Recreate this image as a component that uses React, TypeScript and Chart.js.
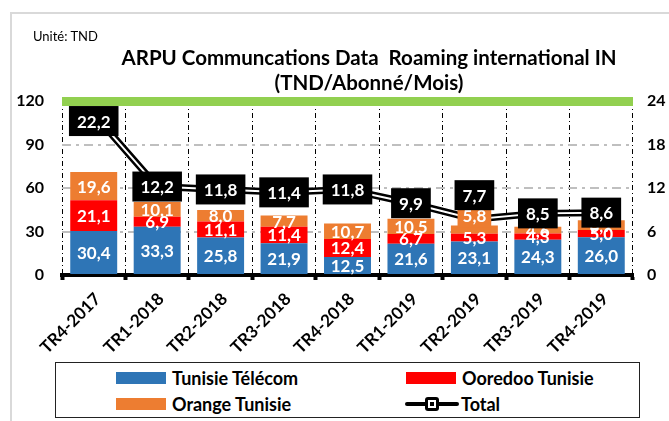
import React, { useEffect, useRef } from "react";
import { Chart, registerables } from "chart.js";
Chart.register(...registerables);

const categories = ["TR4-2017", "TR1-2018", "TR2-2018", "TR3-2018", "TR4-2018", "TR1-2019", "TR2-2019", "TR3-2019", "TR4-2019"];
const tunisieTelecom = [30.4, 33.3, 25.8, 21.9, 12.5, 21.6, 23.1, 24.3, 26.0];
const ooredooTunisie = [21.1, 6.9, 11.1, 11.4, 12.4, 6.7, 5.3, 4.3, 5.0];
const orangeTunisie = [19.6, 10.1, 8.0, 7.7, 10.7, 10.5, 5.8, 4.6, 6.7];
const totalValues = [22.2, 12.2, 11.8, 11.4, 11.8, 9.9, 7.7, 8.5, 8.6];
const leftAxis = { min: 0, max: 120, step: 30 };
const rightAxis = { min: 0, max: 24, step: 6 };
const bandValue = 120;
// data-label placement (like Excel's label position option)
const orangeLabelPlacement = ["center", "center", "center", "center", "center", "center", "above", "center", "center"];
const totalLabelPlacement = ["below", "center", "center", "center", "center", "center", "above", "center", "center"];

const FONT = "Lato, 'Open Sans', sans-serif";
const BLUE = "#2e75b6";
const RED = "#ff0000";
const ORANGE = "#ed7d31";
const GREEN = "#92d050";

const fmt = (v: number) => v.toFixed(1).replace(".", ",");

const overlayPlugin = {
  id: "overlay",
  beforeDatasetsDraw(chart: any) {
    const { ctx, chartArea, scales } = chart;
    const y = scales.y.getPixelForValue(bandValue);
    ctx.save();
    ctx.fillStyle = GREEN;
    ctx.fillRect(chartArea.left, y - 4, chartArea.right - chartArea.left, 9);
    ctx.restore();
  },
  afterDatasetsDraw(chart: any) {
    const { ctx } = chart;
    ctx.save();
    ctx.font = `bold 17px ${FONT}`;
    ctx.textAlign = "center";
    ctx.textBaseline = "middle";
    [2, 3, 4].forEach((di) => {
      const meta = chart.getDatasetMeta(di);
      const ds = chart.data.datasets[di];
      meta.data.forEach((el: any, j: number) => {
        const txt = fmt(ds.data[j]);
        let cy = (el.y + el.base) / 2;
        if (di === 4 && orangeLabelPlacement[j] === "above") {
          const w = ctx.measureText(txt).width + 10;
          const bh = 23;
          const top = el.y + 2 - bh;
          ctx.fillStyle = ORANGE;
          ctx.fillRect(el.x - w / 2, top, w, bh);
          cy = top + bh / 2;
        }
        ctx.fillStyle = "#ffffff";
        ctx.fillText(txt, el.x, cy + 1);
      });
    });
    const meta = chart.getDatasetMeta(1);
    ctx.font = `bold 17px ${FONT}`;
    meta.data.forEach((pt: any, j: number) => {
      const txt = fmt(totalValues[j]);
      const w = ctx.measureText(txt).width + 16;
      const h = 30;
      let top = pt.y - h / 2;
      if (totalLabelPlacement[j] === "below") top = pt.y - 8;
      if (totalLabelPlacement[j] === "above") top = pt.y - 9 - h;
      ctx.fillStyle = "#000000";
      ctx.fillRect(pt.x - w / 2, top, w, h);
      ctx.fillStyle = "#ffffff";
      ctx.fillText(txt, pt.x, top + h / 2 + 1);
    });
    ctx.restore();
  },
};

function ChartCanvas() {
  const ref = useRef<HTMLCanvasElement | null>(null);
  useEffect(() => {
    if (!ref.current) return;
    const chart = new Chart(ref.current, {
      type: "bar",
      data: {
        labels: categories,
        datasets: [
          {
            type: "line",
            label: "Total inner",
            data: totalValues,
            yAxisID: "y1",
            borderColor: "#ffffff",
            borderWidth: 2,
            pointRadius: 0,
            order: 0,
          } as any,
          {
            type: "line",
            label: "Total",
            data: totalValues,
            yAxisID: "y1",
            borderColor: "#000000",
            borderWidth: 7,
            pointRadius: 0,
            order: 1,
          } as any,
          { label: "Tunisie Télécom", data: tunisieTelecom, backgroundColor: BLUE, yAxisID: "y", order: 2, barPercentage: 0.74, categoryPercentage: 1 },
          { label: "Ooredoo Tunisie", data: ooredooTunisie, backgroundColor: RED, yAxisID: "y", order: 3, barPercentage: 0.74, categoryPercentage: 1 },
          { label: "Orange Tunisie", data: orangeTunisie, backgroundColor: ORANGE, yAxisID: "y", order: 4, barPercentage: 0.74, categoryPercentage: 1 },
        ],
      },
      options: {
        animation: false,
        responsive: false,
        maintainAspectRatio: false,
        layout: { padding: { top: 101, bottom: 0, left: 0, right: 0 } },
        plugins: { legend: { display: false }, tooltip: { enabled: false }, title: { display: false } },
        scales: {
          x: {
            stacked: true,
            offset: true,
            grid: {
              display: true,
              offset: true,
              color: "#000000",
              lineWidth: 1,
              drawTicks: true,
              tickLength: 5,
              tickWidth: 4,
              tickColor: "#000000",
              tickBorderDash: [],
            },
            border: { display: true, color: "#000000", width: 4, dash: [5, 3, 1, 3] },
            ticks: {
              color: "#000000",
              font: { family: FONT, size: 17, weight: "bold" },
              minRotation: 45,
              maxRotation: 45,
              padding: 9,
              labelOffset: 4,
              autoSkip: false,
            },
            afterFit: (s: any) => { s.height = 146; },
          },
          y: {
            stacked: true,
            position: "left",
            min: leftAxis.min,
            max: leftAxis.max,
            grid: {
              drawTicks: false,
              lineWidth: 2,
              color: (c: any) => (c.tick && (c.tick.value === leftAxis.min || c.tick.value === leftAxis.max) ? "rgba(0,0,0,0)" : "#bfbfbf"),
            },
            border: { display: false, dash: [9, 5, 3, 5] },
            ticks: {
              stepSize: leftAxis.step,
              color: "#000000",
              padding: 18,
              font: { family: FONT, size: 16, weight: "bold" },
            },
            afterFit: (s: any) => { s.width = 62; },
          },
          y1: {
            stacked: false,
            position: "right",
            min: rightAxis.min,
            max: rightAxis.max,
            grid: { display: false, drawTicks: false },
            border: { display: false },
            ticks: {
              stepSize: rightAxis.step,
              color: "#000000",
              padding: 14,
              font: { family: FONT, size: 16, weight: "bold" },
            },
            afterFit: (s: any) => { s.width = 36; },
          },
        },
      } as any,
      plugins: [overlayPlugin],
    });
    return () => chart.destroy();
  }, []);
  return <canvas ref={ref} width={669} height={421} style={{ position: "absolute", left: 0, top: 0, width: 669, height: 421 }} />;
}

function Swatch({ color }: { color: string }) {
  return <div style={{ width: 50, height: 12, background: color }} />;
}

function TotalIcon() {
  return (
    <div style={{ position: "relative", width: 54, height: 16 }}>
      <div style={{ position: "absolute", left: 0, right: 0, top: 6, height: 4, background: "#000", borderRadius: 2 }} />
      <div style={{ position: "absolute", left: 20, top: 1, width: 14, height: 14, background: "#000", borderRadius: 3 }} />
      <div style={{ position: "absolute", left: 23, top: 4, width: 8, height: 8, background: "#fff" }} />
      <div style={{ position: "absolute", left: 25, top: 6, width: 4, height: 4, background: "#000" }} />
    </div>
  );
}

const legendText: React.CSSProperties = { fontFamily: FONT, fontWeight: "bold", fontSize: 18, lineHeight: "20px", color: "#000", whiteSpace: "nowrap" };

export default function App() {
  useEffect(() => {
    document.body.style.margin = "0";
  }, []);
  return (
    <div style={{ position: "fixed", left: 0, top: 0, width: 669, height: 421, overflow: "hidden", background: "#fff" }}>
      <div style={{ position: "absolute", left: 10, top: 12, width: 700, height: 460, border: "2px solid #d9d9d9" }} />
      <ChartCanvas />
      <div style={{ position: "absolute", left: 33, top: 28, fontFamily: FONT, fontSize: 13, color: "#000" }}>Unité: TND</div>
      <div style={{ position: "absolute", left: 0, width: 738, top: 45, textAlign: "center", fontFamily: FONT, fontWeight: "bold", fontSize: 20.5, lineHeight: "25px", color: "#000", whiteSpace: "pre" }}>
        {"ARPU Communcations Data  Roaming international IN\n(TND/Abonné/Mois)"}
      </div>
      <div style={{ position: "absolute", left: 55, top: 362, width: 583, height: 54, border: "1.5px solid #222", background: "#fff" }}>
        <div style={{ position: "absolute", left: 60, top: 5, display: "flex", alignItems: "center", gap: 6 }}>
          <Swatch color={BLUE} />
          <span style={legendText}>Tunisie Télécom</span>
        </div>
        <div style={{ position: "absolute", left: 350, top: 5, display: "flex", alignItems: "center", gap: 6 }}>
          <Swatch color={RED} />
          <span style={legendText}>Ooredoo Tunisie</span>
        </div>
        <div style={{ position: "absolute", left: 60, top: 31, display: "flex", alignItems: "center", gap: 6 }}>
          <Swatch color={ORANGE} />
          <span style={legendText}>Orange Tunisie</span>
        </div>
        <div style={{ position: "absolute", left: 349, top: 31, display: "flex", alignItems: "center", gap: 2 }}>
          <TotalIcon />
          <span style={legendText}>Total</span>
        </div>
      </div>
    </div>
  );
}
